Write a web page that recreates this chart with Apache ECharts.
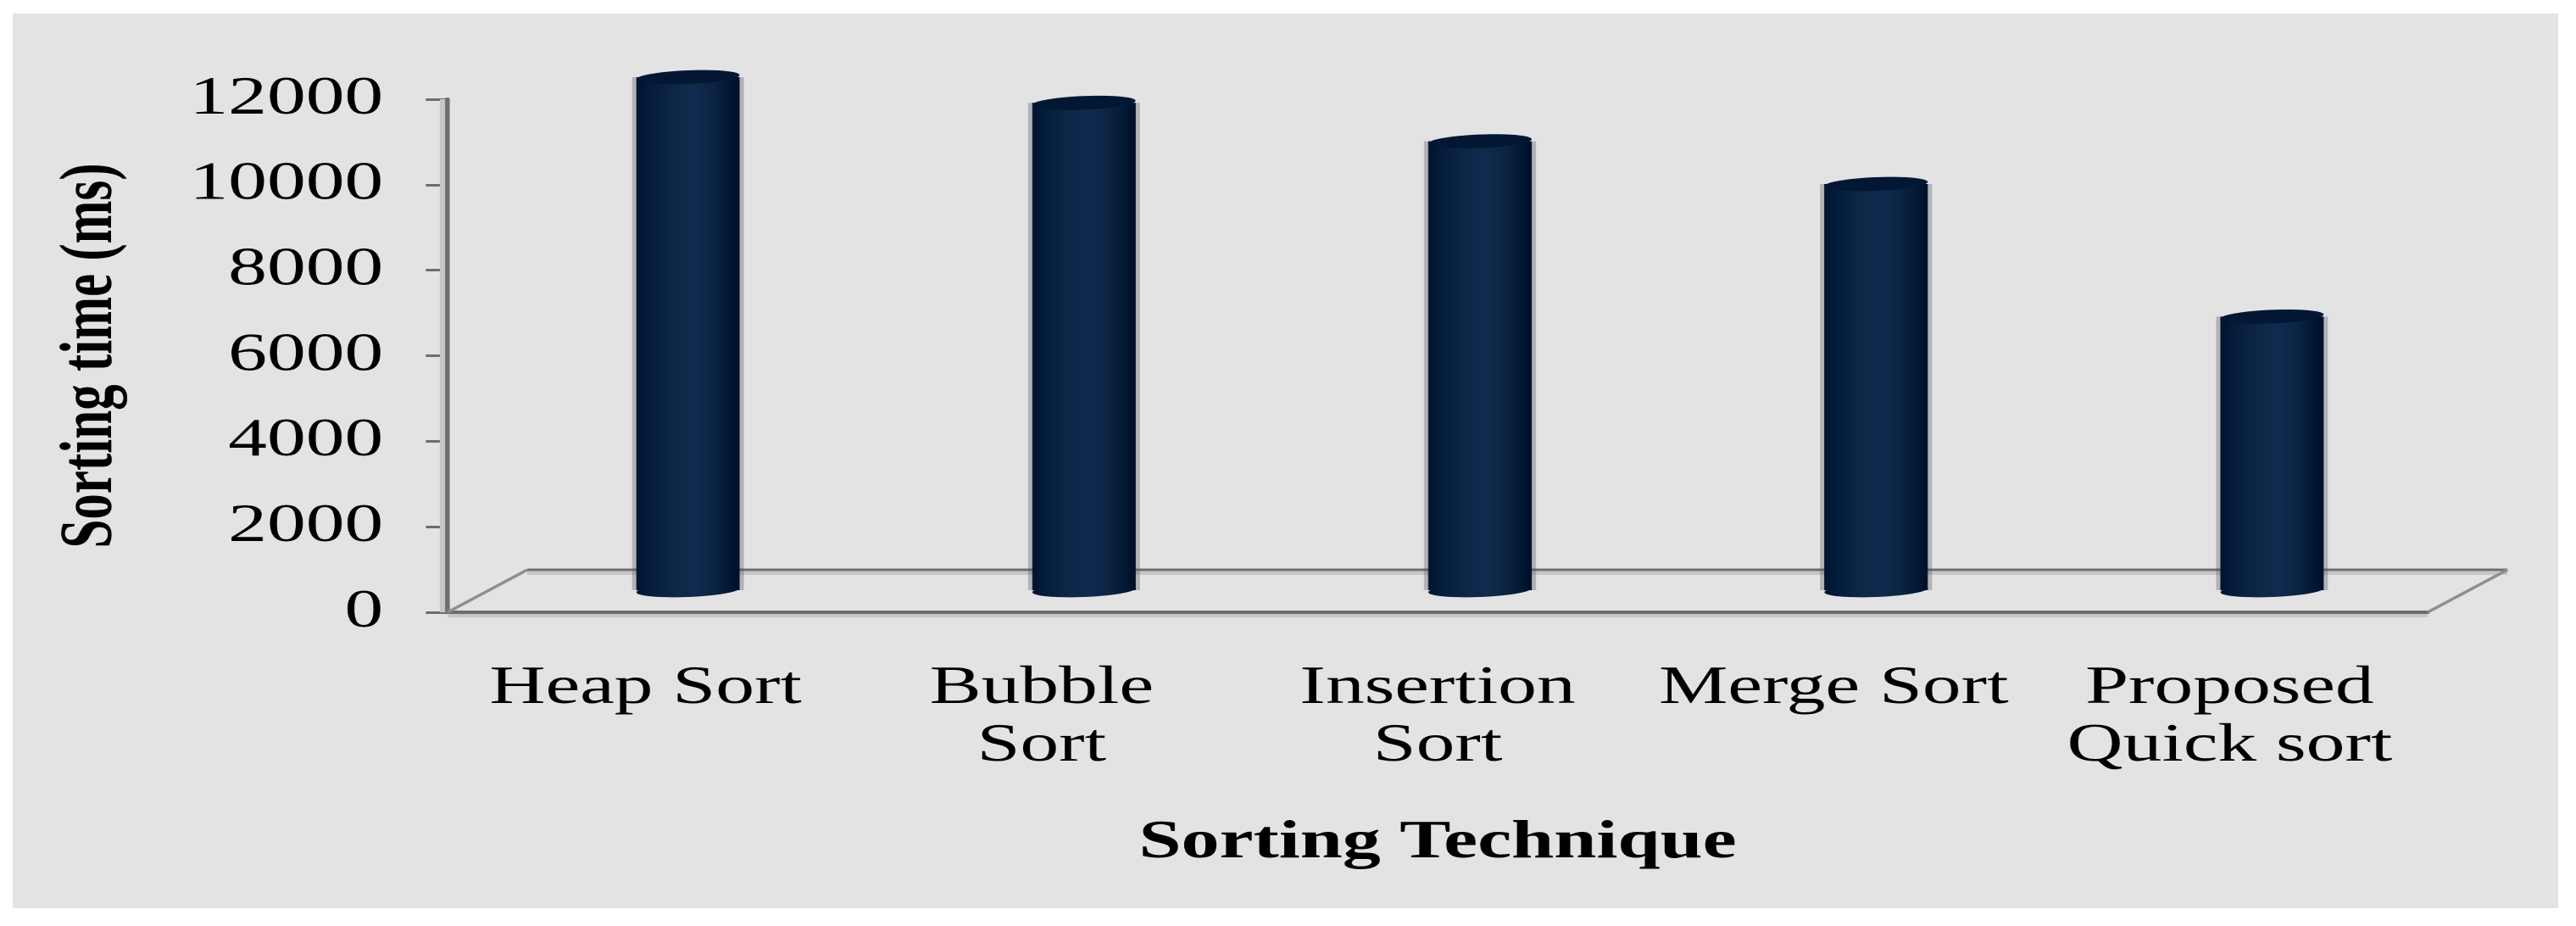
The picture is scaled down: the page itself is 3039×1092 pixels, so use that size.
<!DOCTYPE html>
<html>
<head>
<meta charset="utf-8">
<title>Sorting time by technique</title>
<script src="https://cdn.jsdelivr.net/npm/echarts@6/dist/echarts.min.js"></script>
<style>
  html, body { margin: 0; padding: 0; background: #fff; overflow: hidden; }
  /* the original picture is stretched sideways, text included */
  #chart { height: 1092px; transform-origin: 0 0; }
</style>
</head>
<body>
<div id="chart"></div>
<script>
// data
const categories = ['Heap Sort', 'Bubble\nSort', 'Insertion\nSort', 'Merge Sort', 'Proposed\nQuick sort']
const sortingTime = [12000, 11400, 10500, 9500, 6400]
const yMax = 12000
const yStep = 2000

const STRETCH = 1.43
const px = v => v / STRETCH // real px across -> px inside the stretched chart
const FONT = 'Liberation Serif'
const LINE = '#6d6d6d'

// floor depth and where the cylinders stand on it
const DEPTH_X = px(94)
const DEPTH_Y = 50
const BAR_DX = px(50)
const BAR_DY = 26
const BAR_RX = px(61)
const BAR_RY = 8

function renderFloor(params, api) {
  const c = params.coordSys
  const r = c.x + c.width
  const b = c.y + c.height
  const line = (x1, y1, x2, y2, color, width) => ({
    type: 'line',
    shape: { x1, y1, x2, y2 },
    style: { stroke: color, lineWidth: width }
  })
  return {
    type: 'group',
    children: [
      line(c.x + DEPTH_X, b - DEPTH_Y + 4, r + DEPTH_X, b - DEPTH_Y + 4, '#c6c6c6', 4),
      line(c.x + DEPTH_X, b - DEPTH_Y, r + DEPTH_X, b - DEPTH_Y, LINE, 3),
      line(c.x, b, c.x + DEPTH_X, b - DEPTH_Y, '#8e8e8e', 3),
      line(r, b, r + DEPTH_X, b - DEPTH_Y, '#8e8e8e', 3),
      line(c.x, b + 4, r, b + 4, '#c6c6c6', 4),
      line(c.x - px(6), c.y, c.x - px(6), b, '#c6c6c6', px(6))
    ]
  }
}

function renderCylinder(params, api) {
  const top = api.coord([api.value(0), api.value(1)])
  const base = api.coord([api.value(0), 0])
  const x = top[0] + BAR_DX
  const yTop = top[1] - BAR_DY
  const yBase = base[1] - BAR_DY
  const tilt = 0.06
  const body = new echarts.graphic.LinearGradient(0, 0, 1, 0, [
    { offset: 0, color: '#01132f' },
    { offset: 0.12, color: '#041c3b' },
    { offset: 0.3, color: '#0c2544' },
    { offset: 0.55, color: '#102b50' },
    { offset: 0.75, color: '#0b2442' },
    { offset: 0.92, color: '#021631' },
    { offset: 1, color: '#000f28' }
  ])
  const ellipse = (cy, fill) => ({
    type: 'ellipse',
    shape: { cx: x, cy, rx: BAR_RX, ry: BAR_RY },
    originX: x,
    originY: cy,
    rotation: tilt,
    style: { fill }
  })
  return {
    type: 'group',
    children: [
      {
        type: 'rect',
        shape: { x: x - BAR_RX - px(5), y: yTop, width: 2 * BAR_RX + px(10), height: yBase - yTop },
        style: { fill: 'rgba(60,70,85,0.3)' }
      },
      ellipse(yBase, body),
      {
        type: 'rect',
        shape: { x: x - BAR_RX, y: yTop, width: 2 * BAR_RX, height: yBase - yTop },
        style: { fill: body }
      },
      ellipse(yTop, '#021734')
    ]
  }
}

function renderChart() {
  const chartDom = document.getElementById('chart')
  chartDom.style.width = px(3039) + 'px'
  chartDom.style.transform = 'scaleX(' + STRETCH + ')'

  const myChart = echarts.init(chartDom, null, { devicePixelRatio: 2 })
  const option = {
    animation: false,
    backgroundColor: '#fff',
    graphic: [
      {
        type: 'rect',
        z: -10,
        shape: { x: px(15), y: 16, width: px(3003), height: 1055 },
        style: { fill: '#e3e3e3' }
      }
    ],
    grid: { left: px(528), width: px(2336), top: 117, height: 605 },
    xAxis: {
      type: 'category',
      data: categories,
      name: 'Sorting Technique',
      nameLocation: 'middle',
      nameGap: 241,
      nameTextStyle: { fontFamily: FONT, fontSize: 63, fontWeight: 'bold', color: '#000' },
      axisLine: { lineStyle: { color: LINE, width: 4 } },
      axisTick: { show: false },
      axisLabel: { interval: 0, margin: 56, fontFamily: FONT, fontSize: 64, lineHeight: 68, color: '#000' }
    },
    yAxis: {
      type: 'value',
      min: 0,
      max: yMax,
      interval: yStep,
      name: 'Sorting time (ms)',
      nameLocation: 'middle',
      nameRotate: 90,
      nameGap: 263,
      nameTextStyle: { fontFamily: FONT, fontSize: 61, fontWeight: 'bold', color: '#000' },
      splitLine: { show: false },
      axisLine: { show: true, lineStyle: { color: LINE, width: 4 } },
      axisTick: { show: true, length: 18, lineStyle: { color: LINE, width: 3 } },
      axisLabel: {
        margin: 53,
        padding: [8, 0, 0, 0],
        fontFamily: FONT,
        fontSize: 64,
        color: '#000',
        formatter: v => String(v)
      }
    },
    series: [
      {
        type: 'custom',
        silent: true,
        renderItem: renderFloor,
        data: [[0, 0]],
        z: 1
      },
      {
        type: 'custom',
        name: 'Sorting time',
        renderItem: renderCylinder,
        encode: { x: 0, y: 1 },
        data: sortingTime.map((v, i) => [i, v]),
        z: 2
      }
    ]
  }
  myChart.setOption(option)
}

document.addEventListener('DOMContentLoaded', renderChart)
</script>
</body>
</html>
